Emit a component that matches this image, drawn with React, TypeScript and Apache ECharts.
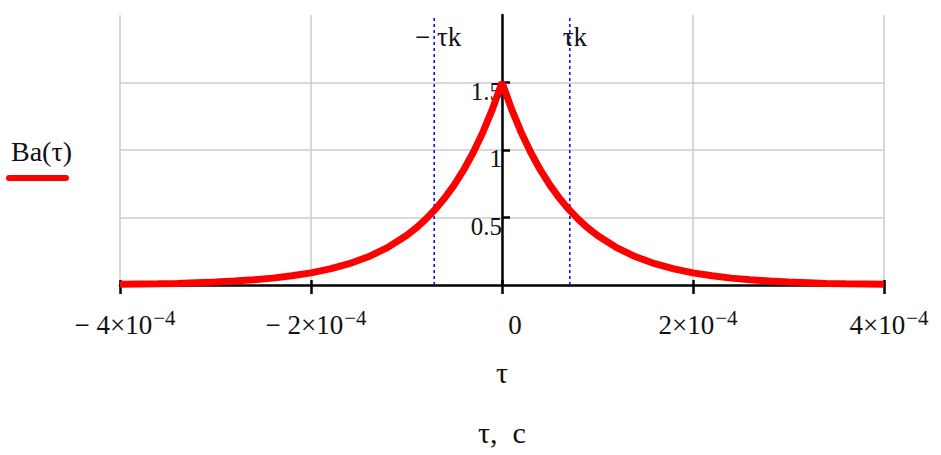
import React, { useEffect, useRef } from "react";
import * as echarts from "echarts";

// τ values, seconds
const tauValues = [
  -4.0e-4, -3.8e-4, -3.6e-4, -3.4e-4, -3.2e-4, -3.0e-4, -2.8e-4, -2.6e-4, -2.4e-4, -2.2e-4,
  -2.0e-4, -1.8e-4, -1.6e-4, -1.4e-4, -1.2e-4, -1.0e-4, -0.9e-4, -0.8e-4, -0.7e-4, -0.6e-4,
  -0.5e-4, -0.4e-4, -0.3e-4, -0.2e-4, -0.1e-4, 0,
  0.1e-4, 0.2e-4, 0.3e-4, 0.4e-4, 0.5e-4, 0.6e-4, 0.7e-4, 0.8e-4, 0.9e-4, 1.0e-4,
  1.2e-4, 1.4e-4, 1.6e-4, 1.8e-4, 2.0e-4, 2.2e-4, 2.4e-4, 2.6e-4, 2.8e-4, 3.0e-4,
  3.2e-4, 3.4e-4, 3.6e-4, 3.8e-4, 4.0e-4,
];
// Ba(τ) values
const baValues = [
  0.005, 0.007, 0.009, 0.012, 0.017, 0.022, 0.029, 0.039, 0.051, 0.068,
  0.090, 0.119, 0.158, 0.209, 0.277, 0.367, 0.422, 0.486, 0.560, 0.644,
  0.742, 0.854, 0.983, 1.132, 1.303, 1.5,
  1.303, 1.132, 0.983, 0.854, 0.742, 0.644, 0.560, 0.486, 0.422, 0.367,
  0.277, 0.209, 0.158, 0.119, 0.090, 0.068, 0.051, 0.039, 0.029, 0.022,
  0.017, 0.012, 0.009, 0.007, 0.005,
];
const tauK = 0.71e-4;
const markerLabels = ["− τk", "τk"];
const markerLabelLevel = 1.84;
const yRange = [0, 2];
const xRange = [-4e-4, 4e-4];
const yTickValues = [0.5, 1, 1.5];
const seriesName = "Ba(τ)";
const xAxisName = "τ";
const bottomTitle = "τ,  c";

const FONT = "'Liberation Serif', 'Times New Roman', serif";
const TEXT = "#111";

const GRID_LEFT = 120;
const GRID_RIGHT = 57;
const WIDTH = 941;

export default function App() {
  const ref = useRef<HTMLDivElement>(null);
  useEffect(() => {
    if (!ref.current) return;
    const chart = echarts.init(ref.current, undefined, { renderer: "svg" });
    const data = tauValues.map((t, i) => [t, baValues[i]]);
    const plotW = WIDTH - GRID_LEFT - GRID_RIGHT;
    const zeroOffset = (plotW * (0 - xRange[0])) / (xRange[1] - xRange[0]);
    const markerLabel = (dx: number) => ({
      show: true,
      position: "inside",
      formatter: "{b}",
      fontFamily: FONT,
      fontSize: 27,
      color: TEXT,
      offset: [dx, 0],
    });
    chart.setOption({
      animation: false,
      backgroundColor: "#fff",
      grid: { left: GRID_LEFT, right: GRID_RIGHT, top: 15, bottom: 170, containLabel: false },
      xAxis: [
        {
          type: "value",
          min: xRange[0],
          max: xRange[1],
          interval: 2e-4,
          name: xAxisName,
          nameLocation: "middle",
          nameGap: 72,
          nameTextStyle: { fontFamily: FONT, fontSize: 30, color: TEXT },
          axisLine: { onZero: true, lineStyle: { color: "#000", width: 2.5 } },
          axisTick: { show: true, length: 9, lineStyle: { color: "#000", width: 2.5 } },
          splitLine: { show: true, lineStyle: { color: "#cdcdcd", width: 1.5 } },
          axisLabel: {
            showMinLabel: true,
            showMaxLabel: true,
            margin: 19,
            color: TEXT,
            fontFamily: FONT,
            formatter: (v: number) => {
              const m = Math.round(v / 1e-4);
              if (m === 0) return "{z|0}";
              const sign = m < 0 ? "− " : "";
              return `{m|${sign}${Math.abs(m)}×10}{s|−4}`;
            },
            rich: {
              m: { fontFamily: FONT, fontSize: 27, color: TEXT, lineHeight: 30, padding: [12, 0, 0, 10] },
              z: { fontFamily: FONT, fontSize: 27, color: TEXT, lineHeight: 30, padding: [12, 0, 0, 26] },
              s: { fontFamily: FONT, fontSize: 21, color: TEXT, lineHeight: 22, padding: [3, 0, 0, 1], verticalAlign: "top" },
            },
          },
        },
        {
          type: "value",
          position: "bottom",
          min: xRange[0],
          max: xRange[1],
          interval: 2e-4,
          axisLine: { show: false, onZero: false },
          axisTick: { show: true, inside: true, length: 5, lineStyle: { color: "#000", width: 2.5 } },
          splitLine: { show: false },
          axisLabel: { show: false },
        },
      ],
      yAxis: {
        type: "value",
        min: yRange[0],
        max: yRange[1],
        interval: 0.5,
        offset: -zeroOffset,
        axisLine: { onZero: false, lineStyle: { color: "#000", width: 2.5 } },
        axisTick: {
          show: true,
          inside: true,
          length: 8,
          customValues: yTickValues,
          lineStyle: { color: "#000", width: 2.5 },
        },
        splitLine: { show: true, lineStyle: { color: "#cdcdcd", width: 1.5 } },
        axisLabel: {
          customValues: yTickValues,
          margin: 0,
          verticalAlign: "top",
          lineHeight: 17,
          color: TEXT,
          fontFamily: FONT,
          fontSize: 25,
          formatter: (v: number) => String(v),
        },
      },
      graphic: [
        {
          type: "text",
          left: 11,
          top: 137,
          style: { text: seriesName, fontFamily: FONT, fontSize: 28, fill: TEXT },
        },
        {
          type: "line",
          shape: { x1: 9, y1: 178, x2: 66, y2: 178 },
          style: { stroke: "#ff0000", lineWidth: 6, lineCap: "round" },
        },
        {
          type: "text",
          x: 502,
          y: 432,
          style: {
            text: bottomTitle,
            fontFamily: FONT,
            fontSize: 30,
            fill: TEXT,
            align: "center",
            verticalAlign: "middle",
          },
        },
      ],
      series: [
        {
          type: "line",
          name: "-tauK",
          data: [[-tauK, yRange[0]], [-tauK, yRange[1]]],
          z: 1,
          silent: true,
          symbol: "none",
          lineStyle: { color: "#0000ff", type: [3, 3], width: 1.5 },
          markPoint: {
            silent: true,
            symbol: "rect",
            symbolSize: 0,
            label: markerLabel(4),
            data: [{ name: markerLabels[0], coord: [-tauK, markerLabelLevel] }],
          },
        },
        {
          type: "line",
          name: "tauK",
          data: [[tauK, yRange[0]], [tauK, yRange[1]]],
          z: 1,
          silent: true,
          symbol: "none",
          lineStyle: { color: "#0000ff", type: [3, 3], width: 1.5 },
          markPoint: {
            silent: true,
            symbol: "rect",
            symbolSize: 0,
            label: markerLabel(5),
            data: [{ name: markerLabels[1], coord: [tauK, markerLabelLevel] }],
          },
        },
        {
          type: "line",
          name: seriesName,
          data,
          z: 3,
          symbol: "none",
          smooth: false,
          lineStyle: { color: "#ff0000", width: 7 },
        },
      ],
    });
    return () => chart.dispose();
  }, []);
  return (
    <div
      ref={ref}
      style={{ position: "fixed", left: 0, top: 0, width: WIDTH, height: 455, background: "#fff" }}
    />
  );
}
